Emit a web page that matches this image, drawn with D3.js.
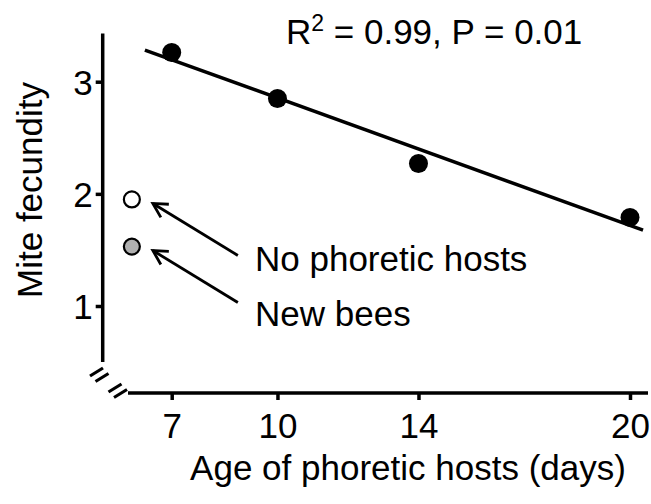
<!DOCTYPE html>
<html>
<head>
<meta charset="utf-8">
<script src="https://cdn.jsdelivr.net/npm/d3@7"></script>
<style>
    body { margin: 0; background: #fff; }
    svg text { font-family: "Liberation Sans", Arial, sans-serif; fill: #000; }
</style>
</head>
<body>
<svg id="chart" width="651" height="504"></svg>
<script>
// fecundity vs age of phoretic hosts
const ages = [7, 10, 14, 20];
const fecundity = [3.26, 2.85, 2.27, 1.79];

// control groups, drawn left of the age axis
const controlLabels = ["No phoretic hosts", "New bees"];
const controlValues = [1.95, 1.53];
const controlFill = ["#ffffff", "#b0b0b0"];
const controlPos = 5.87;

const xTicks = [7, 10, 14, 20];
const yTicks = [1, 2, 3];
const fitRange = [6.24, 20.37];

const svg = d3.select("#chart");
const font = 35;
const sw = 3.5;

const x = d3.scaleLinear().domain([7, 20]).range([171.7, 630]);
const y = d3.scaleLinear().domain([1, 3]).range([306, 81.7]);

const axisX = 102.7, axisY = 393;

// least squares fit
const mx = d3.mean(ages), my = d3.mean(fecundity);
const sxy = d3.sum(ages, (a, i) => (a - mx) * (fecundity[i] - my));
const sxx = d3.sum(ages, a => (a - mx) ** 2);
const slope = sxy / sxx;
const icpt = my - slope * mx;

// y axis
svg.append("line")
    .attr("x1", axisX).attr("x2", axisX)
    .attr("y1", y(3.43)).attr("y2", y(0.5))
    .attr("stroke", "#000").attr("stroke-width", sw);

const yAxis = svg.append("g")
    .attr("transform", `translate(${axisX},0)`)
    .call(d3.axisLeft(y).tickValues(yTicks).tickSize(7).tickPadding(3).tickFormat(d3.format("d")));
yAxis.select(".domain").remove();
yAxis.selectAll(".tick line").attr("stroke-width", sw);
yAxis.selectAll(".tick text").style("font-size", font + "px").attr("dy", "0.36em");

// x axis
svg.append("line")
    .attr("x1", 128).attr("x2", 648)
    .attr("y1", axisY).attr("y2", axisY)
    .attr("stroke", "#000").attr("stroke-width", sw);

const xAxis = svg.append("g")
    .attr("transform", `translate(0,${axisY})`)
    .call(d3.axisBottom(x).tickValues(xTicks).tickSize(7).tickPadding(13).tickFormat(d3.format("d")));
xAxis.select(".domain").remove();
xAxis.selectAll(".tick line").attr("stroke-width", sw);
xAxis.selectAll(".tick text").style("font-size", font + "px");

// axis break marks
const breaks = [[96.5, 372], [102, 377.5], [115, 388], [120.5, 393.5]];
svg.selectAll(".brk")
    .data(breaks)
    .join("line")
    .attr("class", "brk")
    .attr("x1", d => d[0] - 6.5).attr("y1", d => d[1] + 4)
    .attr("x2", d => d[0] + 6.5).attr("y2", d => d[1] - 4)
    .attr("stroke", "#000").attr("stroke-width", 3.2);

// regression line
svg.append("line")
    .attr("x1", x(fitRange[0])).attr("y1", y(icpt + slope * fitRange[0]))
    .attr("x2", x(fitRange[1])).attr("y2", y(icpt + slope * fitRange[1]))
    .attr("stroke", "#000").attr("stroke-width", sw);

svg.selectAll(".pt")
    .data(ages)
    .join("circle")
    .attr("class", "pt")
    .attr("cx", d => x(d))
    .attr("cy", (d, i) => y(fecundity[i]))
    .attr("r", 9.5)
    .attr("fill", "#000");

svg.selectAll(".ctl")
    .data(controlValues)
    .join("circle")
    .attr("class", "ctl")
    .attr("cx", x(controlPos))
    .attr("cy", d => y(d))
    .attr("r", 8)
    .attr("fill", (d, i) => controlFill[i])
    .attr("stroke", "#000").attr("stroke-width", 2.2);

// arrows + labels
controlValues.forEach((v, i) => {
    const tx = x(controlPos) + 21, ty = y(v) + 4;
    const sx = tx + 85, sy = ty + 52;
    svg.append("line")
        .attr("x1", sx).attr("y1", sy).attr("x2", tx).attr("y2", ty)
        .attr("stroke", "#000").attr("stroke-width", 2.8);
    const ang = Math.atan2(sy - ty, sx - tx);
    const head = d3.path();
    head.moveTo(tx + 16 * Math.cos(ang - 0.5), ty + 16 * Math.sin(ang - 0.5));
    head.lineTo(tx, ty);
    head.lineTo(tx + 16 * Math.cos(ang + 0.5), ty + 16 * Math.sin(ang + 0.5));
    svg.append("path")
        .attr("d", head)
        .attr("fill", "none")
        .attr("stroke", "#000").attr("stroke-width", 2.8);
    svg.append("text")
        .attr("x", 255)
        .attr("y", i === 0 ? 271 : 326)
        .style("font-size", font + "px")
        .text(controlLabels[i]);
});

// stats
const stat = svg.append("text")
    .attr("x", 286).attr("y", 44)
    .style("font-size", font + "px");
stat.append("tspan").text("R");
stat.append("tspan").attr("dy", -13).style("font-size", "23px").text("2");
stat.append("tspan").attr("dy", 13).text(" = 0.99, P = 0.01");

// axis titles
svg.append("text")
    .attr("x", 408).attr("y", 480)
    .attr("text-anchor", "middle")
    .style("font-size", font + "px")
    .text("Age of phoretic hosts (days)");

svg.append("text")
    .attr("transform", "translate(42,190) rotate(-90)")
    .attr("text-anchor", "middle")
    .style("font-size", font + "px")
    .text("Mite fecundity");
</script>
</body>
</html>
